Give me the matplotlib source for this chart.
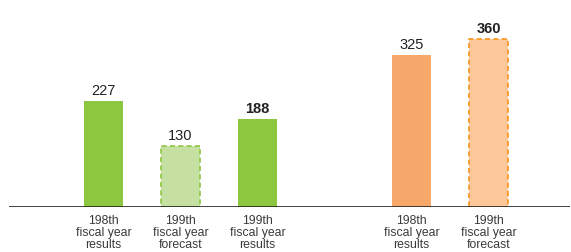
import matplotlib.pyplot as plt
from matplotlib.patches import Rectangle

plt.rcParams['font.family'] = ['Liberation Sans', 'DejaVu Sans']

# chart data
positions = [0, 1, 2, 4, 5]
values = [227, 130, 188, 325, 360]
labels = ['198th\nfiscal year\nresults', '199th\nfiscal year\nforecast',
          '199th\nfiscal year\nresults', '198th\nfiscal year\nresults',
          '199th\nfiscal year\nforecast']
bold = [False, False, True, False, True]
forecast = [False, True, False, False, True]

face = ['#8dc63f', '#c6e0a1', '#8dc63f', '#f6a96b', '#fcc89a']
edge = ['#8dc63f', '#8dc63f', '#8dc63f', '#f6a96b', '#f7941d']

W, H = 571, 253
fig = plt.figure(figsize=(W / 100, H / 100), dpi=100)
ax = fig.add_axes([9 / W, 45 / H, 561 / W, 208 / H])

width = 0.506
for x, v, fc, ec, fc_dash, b in zip(positions, values, face, edge, forecast, bold):
    if fc_dash:
        ax.add_patch(Rectangle((x - width / 2, 0), width, v, facecolor=fc,
                               edgecolor=ec, linestyle=(0, (3, 2)), linewidth=1.2))
    else:
        ax.bar(x, v, width=width, color=fc, edgecolor='none')
    ax.text(x, v + 8, str(v), ha='center', va='bottom', fontsize=10.5,
            color='#222222', fontweight='bold' if b else 'normal')

for x, lab in zip(positions, labels):
    ax.text(x, -14, lab, ha='center', va='top', fontsize=8.8, color='#3a3a3a',
            linespacing=1.02)

ax.axhline(0, color='#222222', linewidth=1.2)
ax.set_xlim(-1.227, 6.058)
ax.set_ylim(0, 445)
ax.axis('off')

fig.savefig('out.png', dpi=100)
